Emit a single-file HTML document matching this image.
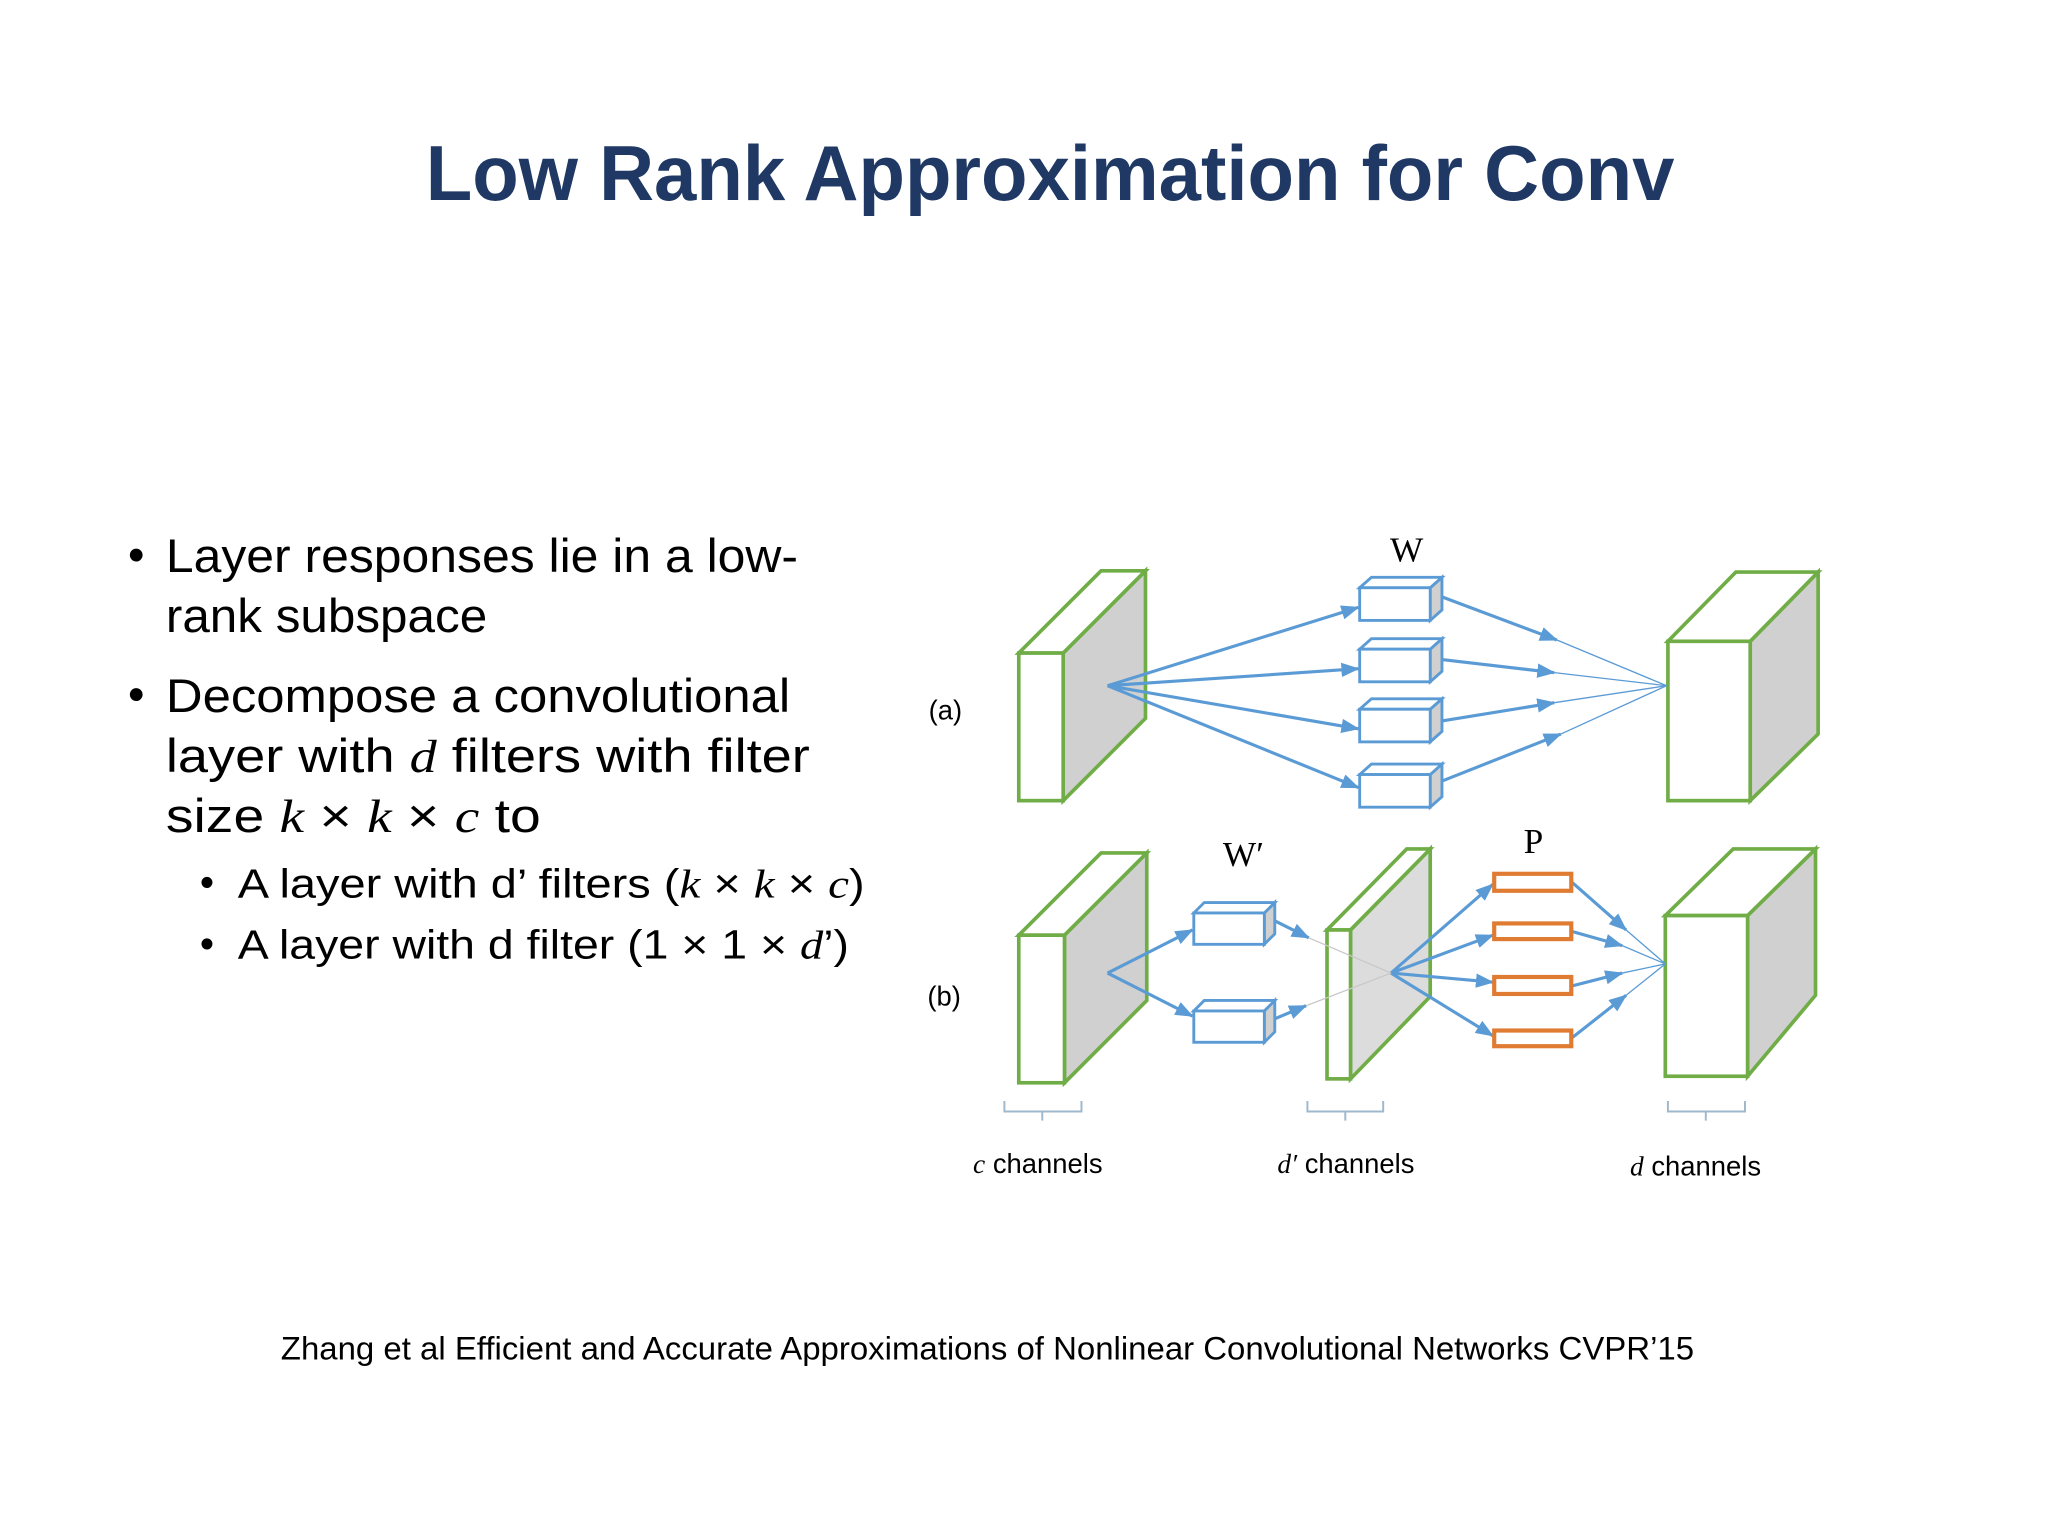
<!DOCTYPE html>
<html><head><meta charset="utf-8"><style>
html,body{margin:0;padding:0;background:#fff;}
svg{display:block;}
.t{font-family:"Liberation Sans",sans-serif;fill:#000;}
.m{font-family:"Liberation Serif",serif;font-style:italic;}
.s{font-family:"Liberation Serif",serif;}
</style></head><body>
<svg width="2048" height="1536" viewBox="0 0 1568 1176" preserveAspectRatio="none" xmlns="http://www.w3.org/2000/svg">
<defs>
<marker id="ar" markerWidth="14" markerHeight="11" refX="13" refY="5.5" orient="auto" markerUnits="userSpaceOnUse" viewBox="0 0 14 11">
<path d="M0,0 L14,5.5 L0,11 z" fill="#5b9bd5"/></marker>
</defs>
<rect width="1568" height="1176" fill="#fff"/>
<text x="326" y="153" class="t" font-weight="bold" font-size="60" fill="#1f3864" style="fill:#1f3864" textLength="956" lengthAdjust="spacingAndGlyphs">Low Rank Approximation for Conv</text>

<g class="t" font-size="36">
<text x="98" y="437">•</text>
<text x="127" y="438" textLength="484" lengthAdjust="spacingAndGlyphs">Layer responses lie in a low-</text>
<text x="127" y="484" textLength="246" lengthAdjust="spacingAndGlyphs">rank subspace</text>
<text x="98" y="544">•</text>
<text x="127" y="545" textLength="478" lengthAdjust="spacingAndGlyphs">Decompose a convolutional</text>
<text x="127" y="591" textLength="493" lengthAdjust="spacingAndGlyphs">layer with <tspan class="m">d</tspan> filters with filter</text>
<text x="127" y="637" textLength="287" lengthAdjust="spacingAndGlyphs">size <tspan class="m">k</tspan> × <tspan class="m">k</tspan> × <tspan class="m">c</tspan> to</text>
</g>
<g class="t" font-size="31">
<text x="153" y="686">•</text>
<text x="182" y="687" textLength="480" lengthAdjust="spacingAndGlyphs">A layer with d’ filters (<tspan class="m">k</tspan> × <tspan class="m">k</tspan> × <tspan class="m">c</tspan>)</text>
<text x="153" y="733">•</text>
<text x="182" y="734" textLength="468" lengthAdjust="spacingAndGlyphs">A layer with d filter (1 × 1 × <tspan class="m">d</tspan>’)</text>
</g>
<text x="215" y="1041" class="t" font-size="25" textLength="1082" lengthAdjust="spacingAndGlyphs">Zhang et al Efficient and Accurate Approximations of Nonlinear Convolutional Networks CVPR’15</text>

<g stroke="#70ad47" stroke-width="2.8" stroke-linejoin="miter">
<path d="M814,500 L877,437 L877,550 L814,613 Z" fill="#d0d0d0"/>
<path d="M780,500 L843,437 L877,437 L814,500 Z" fill="#fff"/>
<rect x="780" y="500" width="34" height="113" fill="#fff"/>
<path d="M1340,491 L1392,438 L1392,562 L1340,613 Z" fill="#d0d0d0"/>
<path d="M1277,491 L1329,438 L1392,438 L1340,491 Z" fill="#fff"/>
<rect x="1277" y="491" width="63" height="122" fill="#fff"/>
<path d="M815,716 L878,653 L878,766 L815,829 Z" fill="#d0d0d0"/>
<path d="M780,716 L843,653 L878,653 L815,716 Z" fill="#fff"/>
<rect x="780" y="716" width="35" height="113" fill="#fff"/>
<path d="M1034,712 L1095,650 L1095,763 L1034,826 Z" fill="#dcdcdc"/>
<path d="M1016,712 L1077,650 L1095,650 L1034,712 Z" fill="#fff"/>
<rect x="1016" y="712" width="18" height="114" fill="#fff"/>
<path d="M1338,701 L1390,650 L1390,762 L1338,824 Z" fill="#d0d0d0"/>
<path d="M1275,701 L1327,650 L1390,650 L1338,701 Z" fill="#fff"/>
<rect x="1275" y="701" width="63" height="123" fill="#fff"/>
</g>

<g stroke="#5b9bd5" stroke-width="2.4" fill="none" marker-end="url(#ar)">
<line x1="848" y1="525" x2="1040" y2="465"/>
<line x1="848" y1="525" x2="1040" y2="512"/>
<line x1="848" y1="525" x2="1040" y2="558"/>
<line x1="848" y1="525" x2="1040" y2="603"/>
<line x1="1104" y1="457" x2="1192" y2="490"/>
<line x1="1104" y1="505" x2="1190" y2="515"/>
<line x1="1104" y1="552" x2="1190" y2="538"/>
<line x1="1104" y1="598" x2="1195" y2="562"/>
</g>
<g stroke="#5b9bd5" stroke-width="1" fill="none">
<line x1="1192" y1="490" x2="1276" y2="525"/>
<line x1="1190" y1="515" x2="1276" y2="525"/>
<line x1="1190" y1="538" x2="1276" y2="525"/>
<line x1="1195" y1="562" x2="1276" y2="525"/>
</g>
<g stroke="#5b9bd5" stroke-width="2.2" fill="#fff">
<g id="bx">
<path d="M1095,450 L1104,442 L1104,467 L1095,475 Z" fill="#d0d0d0"/>
<path d="M1041,450 L1050,442 L1104,442 L1095,450 Z"/>
<rect x="1041" y="450" width="54" height="25"/>
</g>
<use href="#bx" y="47"/>
<use href="#bx" y="93"/>
<use href="#bx" y="143"/>
</g>

<g stroke="#5b9bd5" stroke-width="2.4" fill="none" marker-end="url(#ar)">
<line x1="848" y1="745" x2="913" y2="712"/>
<line x1="848" y1="745" x2="913" y2="778"/>
<line x1="976" y1="705" x2="1002" y2="718"/>
<line x1="976" y1="780" x2="1000" y2="770"/>
<line x1="1065" y1="745" x2="1143" y2="677"/>
<line x1="1065" y1="745" x2="1143" y2="716"/>
<line x1="1065" y1="745" x2="1143" y2="752"/>
<line x1="1065" y1="745" x2="1143" y2="793"/>
<line x1="1203" y1="675" x2="1245" y2="712"/>
<line x1="1203" y1="713" x2="1242" y2="724"/>
<line x1="1203" y1="755" x2="1242" y2="745"/>
<line x1="1203" y1="795" x2="1245" y2="762"/>
</g>
<g stroke="#c8c8c8" stroke-width="1" fill="none">
<line x1="1002" y1="718" x2="1065" y2="745"/>
<line x1="1000" y1="770" x2="1065" y2="745"/>
</g>
<g stroke="#5b9bd5" stroke-width="1" fill="none">
<line x1="1245" y1="712" x2="1275" y2="738"/>
<line x1="1242" y1="724" x2="1275" y2="738"/>
<line x1="1242" y1="745" x2="1275" y2="738"/>
<line x1="1245" y1="762" x2="1275" y2="738"/>
</g>
<g stroke="#5b9bd5" stroke-width="2.2" fill="#fff">
<g id="bx2">
<path d="M968,699 L976,691 L976,715 L968,723 Z" fill="#d0d0d0"/>
<path d="M914,699 L922,691 L976,691 L968,699 Z"/>
<rect x="914" y="699" width="54" height="24"/>
</g>
<use href="#bx2" y="75"/>
</g>
<g stroke="#e07b32" stroke-width="3.2" fill="#fff">
<rect x="1144" y="669" width="59" height="13"/>
<rect x="1144" y="707" width="59" height="12"/>
<rect x="1144" y="748" width="59" height="13"/>
<rect x="1144" y="789" width="59" height="12"/>
</g>

<g stroke="#9fb8cc" stroke-width="1.5" fill="none">
<path d="M769,843 L769,851 L828,851 L828,843 M798,851 L798,858"/>
<path d="M1001,843 L1001,851 L1059,851 L1059,843 M1030,851 L1030,858"/>
<path d="M1277,843 L1277,851 L1336,851 L1336,843 M1306,851 L1306,858"/>
</g>

<g font-size="27" fill="#000">
<text x="1077" y="430" class="s" text-anchor="middle">W</text>
<text x="952" y="663" class="s" text-anchor="middle">W′</text>
<text x="1174" y="653" class="s" text-anchor="middle">P</text>
</g>
<g class="t" font-size="21">
<text x="711" y="551">(a)</text>
<text x="710" y="770">(b)</text>
<text x="745" y="898"><tspan class="m">c</tspan> channels</text>
<text x="978" y="898"><tspan class="m">d′</tspan> channels</text>
<text x="1248" y="900"><tspan class="m">d</tspan> channels</text>
</g>
</svg>
</body></html>
